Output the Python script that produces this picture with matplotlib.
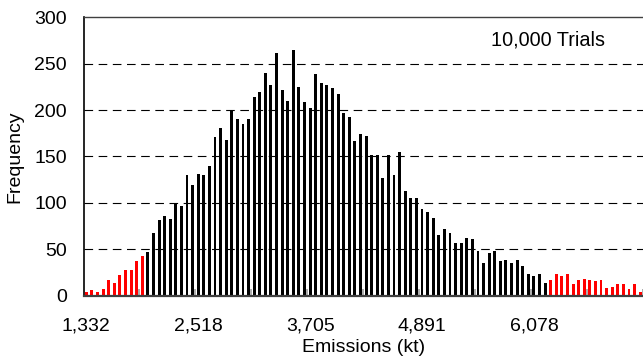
import numpy as np
import matplotlib
matplotlib.use("Agg")
import matplotlib.pyplot as plt

# ── Data (frequency per emission bin) ─────────────────────────────────────────
counts = [
    4, 6, 4, 7, 17, 14, 22, 28, 28, 37,
    43, 47, 67, 81, 86, 83, 100, 97, 130, 119,
    131, 130, 140, 171, 181, 168, 200, 190, 185, 190,
    214, 219, 240, 227, 261, 222, 210, 265, 225, 209,
    202, 239, 229, 227, 224, 217, 197, 192, 167, 174,
    172, 151, 151, 127, 151, 130, 155, 113, 105, 105,
    93, 90, 84, 65, 72, 67, 57, 57, 62, 61,
    48, 35, 46, 48, 37, 38, 35, 38, 32, 23,
    21, 23, 13, 17, 23, 21, 23, 12, 17, 18,
    17, 16, 17, 8, 9, 12, 12, 7, 12, 4,
]
tick_labels = ["1,332", "2,518", "3,705", "4,891", "6,078"]
tick_bins = [0, 20, 40, 60, 80]
n_low_tail = 11    # first bins drawn in red
n_high_tail = 17   # last bins drawn in red

plt.rcParams["font.family"] = ["Liberation Sans", "DejaVu Sans"]
plt.rcParams["lines.scale_dashes"] = False

# ── Plot ──────────────────────────────────────────────────────────────────────
x = np.arange(len(counts))
colors = ["red" if (i < n_low_tail or i >= len(counts) - n_high_tail) else "black"
          for i in x]

fig = plt.figure(figsize=(6.43, 3.62), dpi=100)
ax = fig.add_axes([0.1299, 0.1837, 1 - 0.1299, 0.7685])

ax.set_axisbelow(True)
for y in [50, 100, 150, 200, 250]:
    ax.axhline(y, color="black", linewidth=0.8, dashes=(6.2, 4.0), zorder=0)

ax.bar(x, counts, width=0.52, color=colors, zorder=2)

ax.set_xlim(-0.5, 99.18)
ax.set_ylim(0, 300)
ax.set_yticks(range(0, 301, 50))

ax.set_xticks(tick_bins)
ax.set_xticklabels(tick_labels)
ax.set_xticks(np.arange(9.5, 100, 10), minor=True)
ax.tick_params(axis="x", which="major", length=0, pad=16, labelsize=14)
ax.tick_params(axis="x", which="minor", direction="in", length=5,
               width=1.2, color="#a0a0a0")
ax.tick_params(axis="y", length=0, pad=12, labelsize=14)

ax.spines["right"].set_visible(False)
ax.spines["left"].set_color("black")
ax.spines["left"].set_linewidth(1.2)
ax.spines["top"].set_color("#404040")
ax.spines["top"].set_linewidth(1.0)
ax.spines["bottom"].set_color("#404040")
ax.spines["bottom"].set_linewidth(1.6)

ax.set_xlabel("Emissions (kt)", fontsize=14, labelpad=3)
ax.set_ylabel("Frequency", fontsize=14, labelpad=8)

ax.text(0.728, 0.92, "10,000 Trials", transform=ax.transAxes,
        fontsize=14.3, ha="left", va="center")

fig.savefig("out.png", dpi=100)
